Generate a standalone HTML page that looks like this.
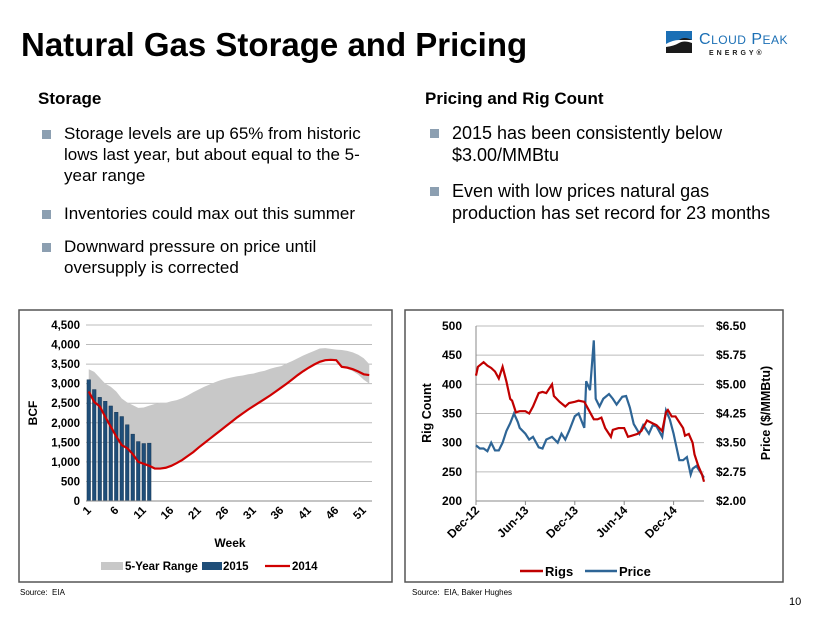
<!DOCTYPE html>
<html><head><meta charset="utf-8"><style>
body{margin:0;width:830px;height:623px;background:#fff;font-family:"Liberation Sans",sans-serif;position:relative;overflow:hidden}
.abs{position:absolute}
h1{position:absolute;left:21px;top:26px;margin:0;font-size:33px;font-weight:bold;color:#000}
.hd{position:absolute;font-size:17px;font-weight:bold}
ul{position:absolute;margin:0;padding:0;list-style:none;font-size:17px;line-height:21px}
li{position:relative;padding-left:26px;margin-bottom:17px}
li:before{content:"";position:absolute;left:4px;top:7px;width:9px;height:9px;background:#8c9fb1}
.src{position:absolute;font-size:8px;top:588px}
</style></head><body>
<h1>Natural Gas Storage and Pricing</h1>
<div class="abs" style="left:666px;top:31px;width:150px;height:30px">
<svg width="26" height="22" style="position:absolute;left:0;top:0"><rect width="26" height="22" fill="#1a1a1a"/><path d="M0 0H26V9Q18 5 13 9T0 13Z" fill="#1b6fb5"/><path d="M0 13Q7 9 13 9T26 9V12Q18 9 13 12T0 16Z" fill="#fff"/></svg>
<div class="abs" style="left:33px;top:0;color:#1b6fb5;font-size:16px;letter-spacing:.5px">C<span style="font-size:12px">LOUD</span> P<span style="font-size:12px">EAK</span></div>
<div class="abs" style="left:43px;top:19px;font-size:7px;font-weight:bold;letter-spacing:3px;color:#222">ENERGY®</div>
</div>
<div class="hd" style="left:38px;top:89px">Storage</div>
<ul style="left:38px;top:123px;width:346px">
<li>Storage levels are up 65% from historic lows last year, but about equal to the 5-year range</li>
<li style="margin-bottom:12px">Inventories could max out this summer</li>
<li>Downward pressure on price until oversupply is corrected</li>
</ul>
<div class="hd" style="left:425px;top:89px">Pricing and Rig Count</div>
<ul style="left:426px;top:122px;width:360px;font-size:18px;line-height:22px;">
<li style="margin-bottom:14px">2015 has been consistently below $3.00/MMBtu</li>
<li>Even with low prices natural gas production has set record for 23 months</li>
</ul>
<svg class="abs" style="left:0;top:0" width="830" height="623" id="charts">
<rect x="19" y="310" width="373" height="272" fill="none" stroke="#555" stroke-width="1.5"/>
<rect x="405" y="310" width="378" height="272" fill="none" stroke="#555" stroke-width="1.5"/>
<g id="left"></g><g id="right"></g>
</svg>
<div class="src" style="left:20px">Source:&nbsp; EIA</div>
<div class="src" style="left:412px">Source:&nbsp; EIA, Baker Hughes</div>
<div class="abs" style="left:789px;top:596px;font-size:11px">10</div>
<script>
const weeks=[];for(let i=1;i<=52;i++)weeks.push(i);
const storageTicks=[0,500,1000,1500,2000,2500,3000,3500,4000,4500];
const weekLabels=[1,6,11,16,21,26,31,36,41,46,51];
const bars2015=[3100,2850,2650,2550,2430,2270,2160,1950,1710,1520,1470,1480];
const line2014=[2800,2530,2420,2150,1900,1650,1430,1350,1200,1000,950,900,830,830,850,900,970,1050,1150,1250,1370,1480,1590,1700,1810,1920,2030,2140,2240,2340,2430,2520,2610,2700,2800,2900,3000,3110,3220,3320,3410,3490,3560,3600,3610,3600,3430,3410,3370,3310,3240,3220];
const rangeHigh=[3370,3300,3150,3000,2920,2800,2620,2520,2450,2380,2390,2440,2480,2510,2510,2550,2580,2630,2700,2780,2850,2920,2980,3040,3090,3130,3160,3190,3210,3240,3260,3300,3330,3380,3420,3450,3520,3580,3650,3720,3780,3840,3900,3910,3890,3870,3860,3840,3800,3740,3650,3500];
const rangeLow=[2800,2530,2420,2150,1900,1650,1430,1350,1200,1000,950,900,830,830,850,900,970,1050,1150,1250,1370,1480,1590,1700,1810,1920,2030,2140,2240,2340,2430,2520,2610,2700,2800,2900,3000,3110,3220,3320,3410,3490,3560,3590,3600,3580,3420,3380,3320,3230,3100,3000];
const rigTicks=[200,250,300,350,400,450,500];
const priceTicks=["$2.00","$2.75","$3.50","$4.25","$5.00","$5.75","$6.50"];
const dateLabels=["Dec-12","Jun-13","Dec-13","Jun-14","Dec-14"];
const rigWeeks=[0,1,4,6,8,10,12,14,16,18,19,21,23,26,28,30,33,35,37,40,41,44,47,49,52,54,57,59,62,64,66,68,71,72,75,78,80,82,85,87,90,93,95,98,100,101,103,105,107,109,110,112,114,115,117,119,120];
const rigs=[415,430,438,432,428,422,410,430,405,375,372,352,354,354,350,362,385,387,385,400,380,370,362,368,370,372,370,358,340,340,343,325,310,322,325,325,310,312,315,320,338,333,330,320,352,356,345,345,335,325,312,315,300,280,260,245,233];
const priceSeries=[3.43,3.35,3.35,3.28,3.50,3.30,3.30,3.50,3.80,4.00,4.25,4.03,3.88,3.73,3.58,3.65,3.38,3.35,3.58,3.65,3.50,3.73,3.58,3.80,4.18,4.25,3.88,5.08,4.85,6.13,4.63,4.43,4.63,4.75,4.63,4.48,4.68,4.70,4.40,3.98,3.73,3.95,3.73,3.95,3.92,3.65,4.33,4.10,3.73,3.50,3.05,3.05,3.13,2.68,2.83,2.90,2.75,2.60];
const priceWeeksAll=[0,2,4,6,8,10,12,14,16,18,20,22,23,26,28,30,33,35,37,40,43,45,47,49,52,54,57,58,60,62,63,65,67,70,72,74,77,79,81,83,86,88,91,93,95,98,100,102,104,105,107,109,111,113,114,116,118,120];
</script>
<script>
const NS="http://www.w3.org/2000/svg";
function mk(p,t,a,txt){const e=document.createElementNS(NS,t);for(const k in a)e.setAttribute(k,a[k]);if(txt!==undefined)e.textContent=txt;p.appendChild(e);return e;}
// LEFT CHART
const L=document.getElementById('left');
const lx0=86,lx1=372,ly0=501,ly1=325;
const bw=(lx1-lx0)/52;
const lxs=w=>lx0+(w-0.5)*bw;
const lys=v=>ly0-(v/4500)*(ly0-ly1);
storageTicks.forEach(t=>{
const g=mk(L,'line',{x1:lx0,x2:lx1,y1:lys(t),y2:lys(t),stroke:'#bbb','stroke-width':1});


const tx=mk(L,'text',{x:lx0-6,y:lys(t)+4,'text-anchor':'end','font-size':11.5,'font-weight':'bold'},t.toLocaleString('en-US'));


});
let d='';weeks.forEach((w,i)=>{d+=(i?'L':'M')+lxs(w)+' '+lys(rangeHigh[i]);});
for(let i=weeks.length-1;i>=0;i--)d+='L'+lxs(weeks[i])+' '+lys(rangeLow[i]);
const area=mk(L,'path',{d:d+'Z',fill:'#c8c8c8'});


bars2015.forEach((v,i)=>{
const r=mk(L,'rect',{x:lxs(i+1)-1.8,y:lys(v),width:3.6,height:ly0-lys(v),fill:'#1f4e79',stroke:'#0d2a45','stroke-width':0.4});


});
let p14='';line2014.forEach((v,i)=>{p14+=(i?'L':'M')+lxs(weeks[i])+' '+lys(v);});
const l14=mk(L,'path',{d:p14,fill:'none',stroke:'#d00000','stroke-width':2.2});


const ax=mk(L,'line',{x1:lx0,x2:lx1,y1:ly0,y2:ly0,stroke:'#888'});


weekLabels.forEach(w=>{
const x=lxs(w)+3,y=ly0+10;
const t=mk(L,'text',{x:x,y:y,'text-anchor':'end','font-size':11.5,'font-weight':'bold',transform:`rotate(-45 ${x} ${y})`},w);


});
let t1=mk(L,'text',{x:230,y:547,'text-anchor':'middle','font-size':12,'font-weight':'bold'},'Week');


t1=mk(L,'text',{x:37,y:413,'text-anchor':'middle','font-size':12,'font-weight':'bold',transform:'rotate(-90 37 413)'},'BCF');


const lg=mk(L,'g',{});


mk(lg,'rect',{x:101,y:562,width:22,height:8,fill:'#c8c8c8'});
mk(lg,'text',{x:125,y:570,'font-size':11.5,'font-weight':'bold'},'5-Year Range');
mk(lg,'rect',{x:202,y:562,width:20,height:8,fill:'#1f4e79'});
mk(lg,'text',{x:223,y:570,'font-size':11.5,'font-weight':'bold'},'2015');
mk(lg,'line',{x1:265,x2:290,y1:566,y2:566,stroke:'#d00000','stroke-width':2.2});
mk(lg,'text',{x:292,y:570,'font-size':11.5,'font-weight':'bold'},'2014');
// RIGHT CHART
const R=document.getElementById('right');
const rx0=476,rx1=704,ry0=501,ry1=326;
const rxs=w=>rx0+w*(rx1-rx0)/120;
const rys=v=>ry0-(v-200)/300*(ry0-ry1);
const pys=v=>ry0-(v-2)/4.5*(ry0-ry1);
rigTicks.forEach((t,i)=>{
const g=mk(R,'line',{x1:rx0,x2:rx1,y1:rys(t),y2:rys(t),stroke:'#bbb'});


const a=mk(R,'text',{x:rx0-14,y:rys(t)+4,'text-anchor':'end','font-size':12,'font-weight':'bold'},t);


const b=mk(R,'text',{x:rx1+12,y:rys(t)+4,'font-size':12,'font-weight':'bold'},priceTicks[i]);


});
const rl=mk(R,'line',{x1:rx0,x2:rx0,y1:ry1,y2:ry0,stroke:'#888'});


const rb=mk(R,'line',{x1:rx0,x2:rx1,y1:ry0,y2:ry0,stroke:'#888'});


dateLabels.forEach((s,i)=>{
const x=rxs(i*26)+4,y=ry0+10;
mk(R,'line',{x1:rxs(i*26),x2:rxs(i*26),y1:ry0,y2:ry0+4,stroke:'#888'});
const t=mk(R,'text',{x:x,y:y,'text-anchor':'end','font-size':12,'font-weight':'bold',transform:`rotate(-45 ${x} ${y})`},s);


});
let pp='';priceSeries.forEach((v,i)=>{pp+=(i?'L':'M')+rxs(priceWeeksAll[i])+' '+pys(v);});
const pl=mk(R,'path',{d:pp,fill:'none',stroke:'#2e6596','stroke-width':2.2});


let rp='';rigs.forEach((v,i)=>{rp+=(i?'L':'M')+rxs(rigWeeks[i])+' '+rys(v);});
const rg=mk(R,'path',{d:rp,fill:'none',stroke:'#c00000','stroke-width':2.2});


t1=mk(R,'text',{x:431,y:413,'text-anchor':'middle','font-size':12.5,'font-weight':'bold',transform:'rotate(-90 431 413)'},'Rig Count');


t1=mk(R,'text',{x:770,y:413,'text-anchor':'middle','font-size':12.5,'font-weight':'bold',transform:'rotate(-90 770 413)'},'Price ($/MMBtu)');


const rg2=mk(R,'g',{});


mk(rg2,'line',{x1:520,x2:543,y1:571,y2:571,stroke:'#c00000','stroke-width':2.5});
mk(rg2,'text',{x:545,y:576,'font-size':13,'font-weight':'bold'},'Rigs');
mk(rg2,'line',{x1:585,x2:617,y1:571,y2:571,stroke:'#2e6596','stroke-width':2.5});
mk(rg2,'text',{x:619,y:576,'font-size':13,'font-weight':'bold'},'Price');
</script>
</body></html>
